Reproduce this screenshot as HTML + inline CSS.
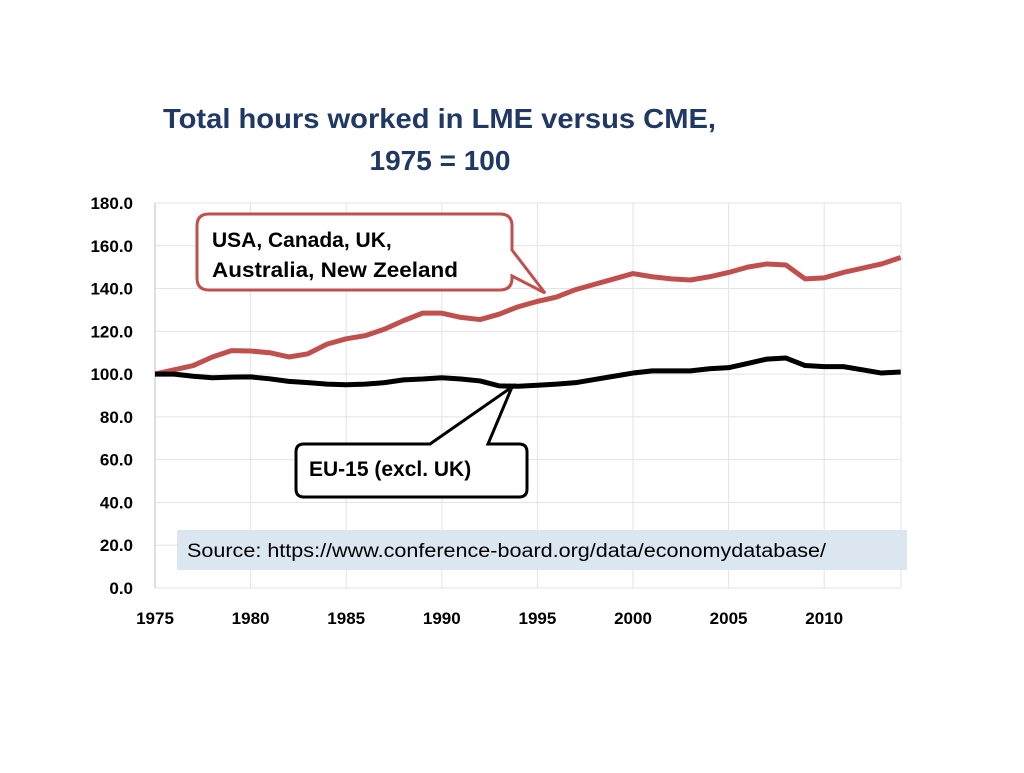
<!DOCTYPE html>
<html><head><meta charset="utf-8"><style>
body{margin:0;background:#fff;width:1024px;height:768px;overflow:hidden;font-family:"Liberation Sans",sans-serif}
</style></head><body>
<svg width="1024" height="768">
<g id="grid"></g>
<text x="163" y="128" textLength="553" lengthAdjust="spacingAndGlyphs" font-size="28" font-weight="bold" fill="#1f3864">Total hours worked in LME versus CME,</text>
<text x="440" y="170" text-anchor="middle" font-size="28" font-weight="bold" fill="#1f3864">1975 = 100</text>
<g id="ylab"></g>
<g id="xlab"></g>
<g id="series"></g>
<rect x="177" y="530" width="730" height="40" fill="#dce6f1"/>
<text x="187" y="557" textLength="639" lengthAdjust="spacingAndGlyphs" font-size="19" fill="#000">Source: https://www.conference-board.org/data/economydatabase/</text>
<path d="M209,214 H500 Q512,214 512,226 V250 L545,293 L512,276 V278 Q512,290 500,290 H209 Q197,290 197,278 V226 Q197,214 209,214 Z" fill="#fff" stroke="#c0504d" stroke-width="3"/>
<text x="212" y="247" font-size="21" font-weight="bold">USA, Canada, UK,</text>
<text x="212" y="277" textLength="246" lengthAdjust="spacingAndGlyphs" font-size="21" font-weight="bold">Australia, New Zeeland</text>
<path d="M304,444 H430 L512,387 L488,444 H519 Q527,444 527,452 V489 Q527,497 519,497 H304 Q296,497 296,489 V452 Q296,444 304,444 Z" fill="#fff" stroke="#000" stroke-width="3"/>
<text x="309" y="476" font-size="21" font-weight="bold">EU-15 (excl. UK)</text>
</svg>
<script>
const years=[];for(let y=1975;y<=2014;y++)years.push(y);
const lmeValues=[100,102,104,108,111,110.8,110,108,109.5,114,116.5,118,121,125,128.5,128.5,126.5,125.5,128,131.5,134,136,139.5,142,144.5,147,145.5,144.5,144,145.5,147.5,150,151.5,151,144.5,145,147.5,149.5,151.5,154.5];
const cmeValues=[100,100,99,98.3,98.6,98.7,97.8,96.6,96,95.3,95,95.3,96,97.3,97.7,98.3,97.7,96.8,94.5,94.3,94.8,95.3,96,97.5,99,100.5,101.5,101.5,101.5,102.5,103,105,107,107.5,104,103.5,103.5,102,100.5,101];
const yTicks=[0,20,40,60,80,100,120,140,160,180];
const xTicks=[1975,1980,1985,1990,1995,2000,2005,2010];
const NS="http://www.w3.org/2000/svg";
const X=y=>155+(y-1975)*19.12, Y=v=>588-v*2.139;
function mk(p,t,a){const e=document.createElementNS(NS,t);for(const k in a)e.setAttribute(k,a[k]);p.appendChild(e);return e;}
const g=document.getElementById('grid'),yl=document.getElementById('ylab'),xl=document.getElementById('xlab'),s=document.getElementById('series');
yTicks.forEach(v=>{const l=mk(g,'line',{x1:155,x2:901,y1:Y(v),y2:Y(v),stroke:'#e3e3e3','stroke-width':1});


const t=mk(yl,'text',{x:133,y:Y(v)+6,'text-anchor':'end','font-size':17,'font-weight':'bold'});t.textContent=v.toFixed(1);

});
xTicks.forEach(v=>{const l=mk(g,'line',{x1:X(v),x2:X(v),y1:Y(180),y2:588,stroke:'#e3e3e3','stroke-width':1});


const t=mk(xl,'text',{x:X(v),y:624,'text-anchor':'middle','font-size':17,'font-weight':'bold'});t.textContent=v;

});
const gl=mk(g,'line',{x1:901,x2:901,y1:Y(180),y2:588,stroke:'#e3e3e3'});


const ax=mk(g,'line',{x1:155,x2:155,y1:Y(180),y2:588,stroke:'#bfbfbf'});


const lme=mk(s,'polyline',{points:years.map((y,i)=>X(y)+','+Y(lmeValues[i])).join(' '),fill:'none',stroke:'#c0504d','stroke-width':5,'stroke-linejoin':'round'});


const cme=mk(s,'polyline',{points:years.map((y,i)=>X(y)+','+Y(cmeValues[i])).join(' '),fill:'none',stroke:'#000','stroke-width':5,'stroke-linejoin':'round'});


</script>
</body></html>
